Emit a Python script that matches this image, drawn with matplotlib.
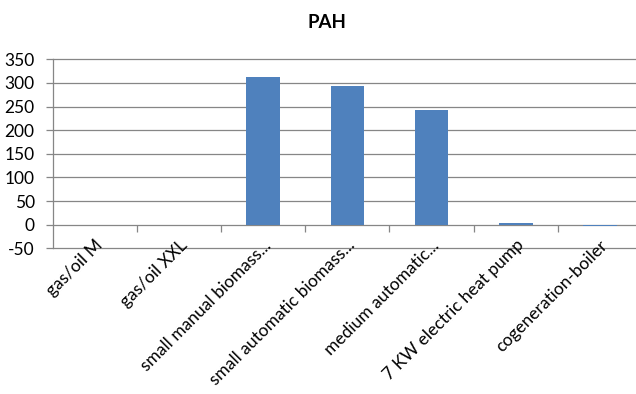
import matplotlib
matplotlib.use("Agg")
import matplotlib.pyplot as plt
import matplotlib.transforms as mtransforms
import numpy as np

# data
categories = ["gas/oil M", "gas/oil XXL", "small manual biomass...",
              "small automatic biomass...", "medium automatic...",
              "7 KW electric heat pump", "cogeneration-boiler"]
pah_values = [0, 0, 313, 293, 242, 2.5, -2.5]
y_ticks = [-50, 0, 50, 100, 150, 200, 250, 300, 350]

bar_color = "#4F81BD"
grid_color = "#868686"

plt.rcParams["font.family"] = ["Lato", "DejaVu Sans"]

fig = plt.figure(figsize=(6.36, 3.94), dpi=100)
ax = fig.add_axes([0.0829, 0.3698, 0.9265, 0.4797])

x = np.arange(len(categories))
ax.bar(x, pah_values, width=0.4, color=bar_color, zorder=3)

ax.set_xlim(-0.5, len(categories) - 0.5)
ax.set_ylim(-50, 350)
ax.set_yticks(y_ticks)
ax.set_yticklabels([str(v) for v in y_ticks], fontsize=12.5, color="#000000")
ax.tick_params(axis="y", direction="out", length=5, width=0.9, color=grid_color, pad=8)

# horizontal gridlines (zero line is the category axis)
for v in y_ticks:
    if v != 0:
        ax.axhline(v, color=grid_color, lw=0.9, zorder=1, clip_on=False)

for side in ["top", "right"]:
    ax.spines[side].set_visible(False)
ax.spines["left"].set_color(grid_color)
ax.spines["left"].set_linewidth(0.9)
ax.spines["bottom"].set_position(("data", 0))
ax.spines["bottom"].set_color(grid_color)
ax.spines["bottom"].set_linewidth(0.9)
ax.spines["bottom"].set_zorder(2)

# tick marks between categories, labels placed low under the plot
ax.set_xticks(x[:-1] + 0.5, minor=True)
ax.set_xticks([])
ax.tick_params(axis="x", which="minor", direction="out", length=5, width=0.9, color=grid_color)

offset = mtransforms.ScaledTranslation(0.09, 0.02, fig.dpi_scale_trans)
for i, lab in enumerate(categories):
    ax.text(i, -50, lab, transform=ax.transData + offset, rotation=45,
            rotation_mode="anchor", ha="right", va="baseline", fontsize=12.5,
            clip_on=False)

fig.text(326.6 / 636, 0.943, "PAH", ha="center", va="center",
         fontsize=13.5, fontweight="bold")

fig.savefig("out.png", dpi=100)
